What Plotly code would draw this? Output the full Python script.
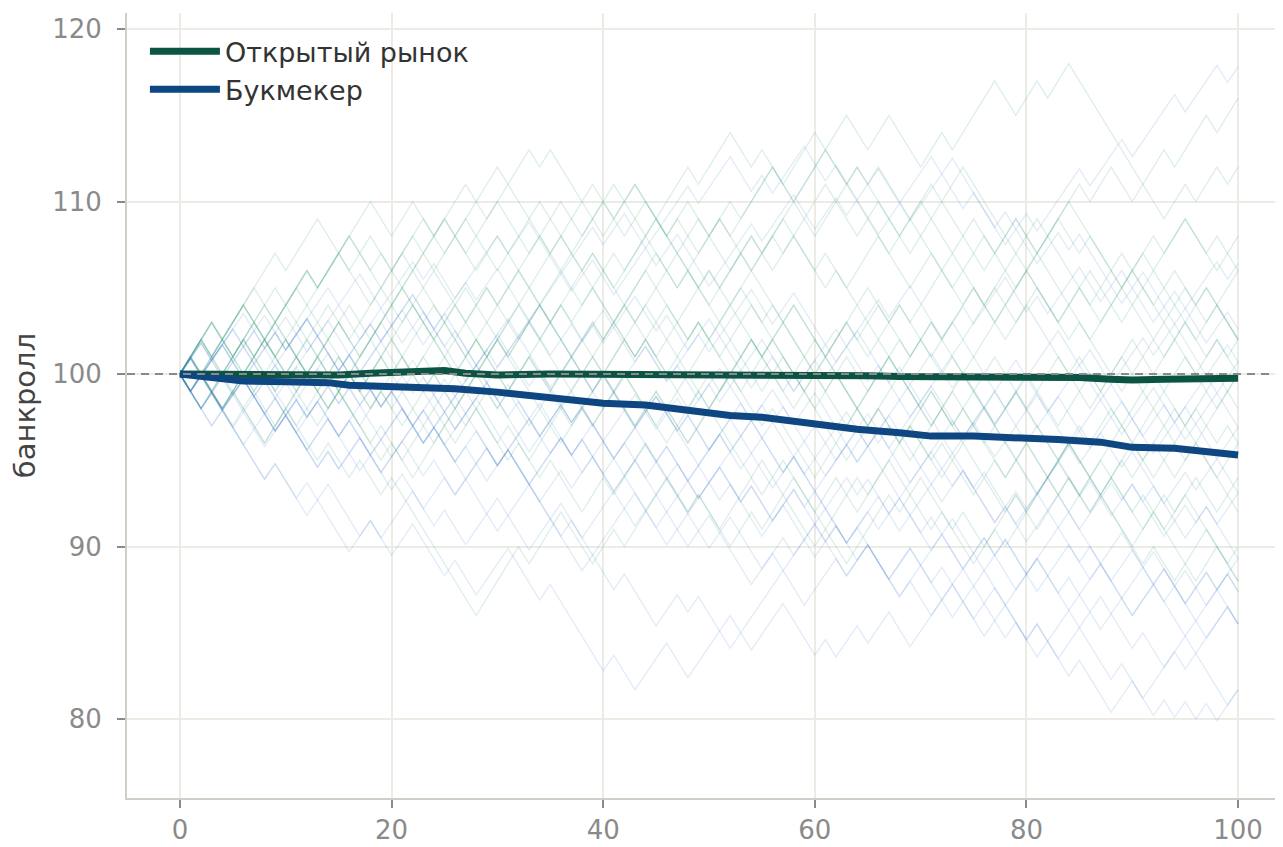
import plotly.graph_objects as go

# ---------------- data ----------------
START = 100.0
BASELINE = 100.0

# mean bankroll curves (thick lines)
OPEN_X = [0, 5, 10, 15, 18, 20, 23, 25, 27, 30, 35, 40, 45, 50, 55, 60, 65, 68, 70, 72, 75, 78, 80, 82, 85, 88, 90, 93, 96, 100]
OPEN_Y = [100, 99.95, 99.95, 99.95, 100.05, 100.1, 100.25, 100.2, 100.05, 99.95, 100.0, 100.0, 99.95, 99.9, 100.0, 99.95,
          99.9, 99.85, 99.85, 99.75, 99.8, 99.75, 99.75, 99.85, 99.8, 99.7, 99.65, 99.7, 99.7, 99.75]
BOOK_X = [0, 3, 6, 10, 14, 16, 20, 24, 26, 30, 34, 38, 40, 44, 46, 50, 52, 55, 58, 60, 64, 68, 71, 75, 79, 83, 87, 90, 94, 97, 100]
BOOK_Y = [100, 99.75, 99.6, 99.55, 99.5, 99.35, 99.3, 99.2, 99.15, 98.95, 98.7, 98.5, 98.3, 98.2, 98.05, 97.75, 97.6,
          97.5, 97.25, 97.05, 96.8, 96.6, 96.4, 96.4, 96.35, 96.2, 96.05, 95.75, 95.7, 95.55, 95.3]

# step sizes of the individual faint walks (win / loss per bet)
UP_OPEN = 1.0
UP_BOOK = 0.9
DOWN = 1.0

# faint sample walks, as signed run lengths (consecutive wins > 0, losses < 0)
OPEN_WALKS = {
    "G1": [3,-1,5,-1,3,-2,3,-2,2,-2,3,-1,2,-1,2,-1,1,-4,2,-3,4,-1,3,-2,1,-3,5,-2,2,-3,2,-1,4,-2,2,-1,2,-9,2,-1,2,-1,1],
    "G2": [2,-1,3,-2,4,-1,3,-3,2,-1,3,-3,1,-1,4,-2,3,-3,2,-4,3,-1,4,-2,3,-4,1,-3,2,-5,2,-1,4,-2,1,-3,3,-1,2,-3,2],
    "G3": [1,-2,3,-1,2,-3,4,-2,3,-2,1,-4,2,-1,5,-2,1,-3,2,-2,4,-1,2,-4,1,-3,2,-2,1,-5,2,-3,1,-4,2,-3,1,-4,1,-2,3,-3],
    "G4": [-1,1,-3,1,-2,2,-3,1,-2,1,-2,1,-8,4,-1,3,-3,2,-1,4,-2,1,-2,3,-1,2,-3,2,-2,3,-4,1,-3,2,-1,4,-2,2,-1,3,-2,4,-1,3],
    "G5": [3,-2,1,-3,2,-1,3,-2,4,-1,2,-3,1,-2,3,-4,2,-1,5,-2,1,-3,2,-2,1,-4,3,-1,2,-3,2,-1,3,-2,4,-3,1,-2,2,-4,2,-1,2,-2],
    "G6": [-2,1,-1,4,-2,1,-3,2,-1,3,-2,1,-4,2,-1,3,-2,4,-1,2,-3,1,-2,3,-4,1,-2,2,-3,4,-1,2,-2,1,-4,2,-1,3,-2,1,-3,2,-1,3,-2,1,-2],
    "G7": [2,-1,3,-1,2,-2,4,-1,2,-3,2,-1,3,-2,1,-2,4,-2,1,-1,3,-3,2,-2,1,-3,2,-1,4,-3,1,-4,2,-1,3,-2,1,-5,2,-1,3,-4,2,-1,1,-3],
    "G8": [1,-3,2,-1,3,-2,1,-4,2,-1,1,-3,4,-2,1,-2,3,-1,2,-4,1,-2,3,-1,2,-3,1,-4,2,-1,3,-2,1,-3,2,-4,1,-2,3,-1,2,-3,1,-2,3,-2,1,-1],
    "G9": [-1,3,-1,2,-3,4,-2,3,-1,2,-3,1,-2,4,-1,3,-2,1,-3,2,-1,4,-3,2,-1,3,-2,4,-1,1,-3,2,-4,1,-2,3,-4,1,-3,2,-1,2,-3,1,-2],
    "G10": [2,-4,1,-2,3,-1,2,-3,1,-2,4,-1,2,-3,1,-4,2,-1,3,-2,1,-3,2,-4,1,-2,1,-3,3,-1,4,-2,1,-3,2,-1,3,-2,1,-3,2,-1,4,-2,1,-1,1,-1],
    "G11": [1,-2,3,-1,2,-2,1,-3,4,-1,2,-2,3,-1,1,-3,2,-1,4,-2,3,-3,1,-2,4,-1,2,-3,1,-2,3,-1,2,-4,2,-1,3,-2,4,-1,2,-2,3,-1,3,-1,2],
    "G12": [-2,3,-1,2,-3,1,-2,4,-2,1,-3,2,-1,3,-2,4,-1,2,-4,1,-2,3,-1,2,-3,1,-3,2,-4,1,-2,3,-1,2,-4,1,-3,2,-3,1,-3,2,-1,1,-4,1],
    "G13": [2,-1,4,-2,3,-1,2,-3,4,-1,2,-2,3,-3,1,-2,4,-1,2,-3,1,-2,3,-1,3,-1,3,-3,1,-4,2,-1,3,-4,1,-2,3,-5,2,-1,3,-2,1,-2],
    "G14": [-1,1,-2,1,-3,2,-1,3,-4,1,-2,3,-1,2,-3,1,-2,4,-1,2,-3,1,-1,3,-2,4,-1,2,-4,1,-2,3,-3,1,-2,4,-2,1,-3,2,-1,3,-2,1,-3,2,-1,2],
    "G15": [3,-1,2,-2,4,-1,3,-2,1,-1,3,-2,3,-1,2,-4,1,-3,2,-1,3,-4,1,-2,3,-1,2,-3,1,-4,2,-1,3,-2,1,-3,2,-4,1,-2,3,-1,2,-3,2,-1,1],
    "G16": [1,-1,2,-3,1,-2,3,-1,1,-3,2,-1,4,-2,1,-3,2,-4,1,-1,3,-2,1,-3,4,-1,2,-2,1,-4,2,-1,3,-3,1,-2,3,-1,1,-4,2,-1,2,-3,1,-2,2,-3,1],
    "G17": [3,-2,3,-1,2,-3,1,-2,3,-1,1,-4,2,-1,3,-2,1,-3,4,-1,2,-3,1,-2,3,-4,2,-1,4,-2,1,-3,2,-1,3,-1,2,-3,1,-2,4,-1,1,-3,2,-1,2],
    "G18": [-2,1,-1,3,-2,1,-3,2,-4,1,-2,3,-1,2,-3,1,-2,1,-3,2,-1,3,-4,1,-3,2,-1,2,-3,1,-2,4,-1,2,-3,1,-2,3,-1,4,-2,3,-1,2,-3,1,-2,2],
    "G19": [1,-3,4,-1,2,-2,1,-3,2,-1,3,-2,4,-1,2,-3,1,-4,2,-1,3,-2,1,-3,2,-1,3,-4,1,-2,3,-1,2,-3,4,-1,2,-3,1,-4,2,-1,3,-2,1,-2],
    "G20": [-1,2,-1,3,-2,1,-4,2,-1,3,-3,1,-2,4,-1,2,-3,1,-2,3,-1,1,-4,2,-1,3,-2,1,-3,2,-4,1,-2,3,-1,1,-4,2,-3,1,-2,1,-3,2,-4,2,-2],
}
BOOK_WALKS = {
    "B1": [-3,1,-4,1,-3,2,-3,1,-2,2,-3,1,-2,3,-3,1,-5,1,-2,3,-2,4,-1,4,-2,3,-1,2,-3,1,-2,4,-1,2,-3,1,-2,3,-1,2,-3,1,-2,3,-1],
    "B2": [-1,2,-3,1,-2,2,-1,1,-4,2,-1,3,-3,1,-2,2,-4,1,-2,3,-1,1,-3,2,-2,1,-3,2,-1,3,-3,2,-2,2,-3,1,-3,2,-2,1,-3,1,-3,2,-2,1,-1,1,-1,1,-1,2],
    "B3": [2,-1,3,-2,2,-1,3,-1,2,-2,3,-1,1,-2,4,-1,2,-3,3,-1,2,-2,4,-1,3,-2,1,-1,3,-2,1,-4,2,-1,3,-2,1,-3,2,-1,4,-1,3,-1,4,-1,3,-1,1],
    "B4": [1,-2,3,-1,2,-1,2,-3,4,-1,2,-2,3,-1,2,-3,3,-1,2,-2,3,-1,2,-3,4,-1,3,-2,2,-1,3,-2,3,-1,1,-4,1,-3,2,-1,1,-4,2,-3,1,-2,2,-1],
    "B5": [-1,1,-2,3,-1,1,-3,2,-1,2,-2,1,-3,2,-1,3,-2,1,-2,2,-1,1,-3,4,-2,1,-2,3,-1,2,-3,1,-2,3,-1,1,-3,2,-1,2,-2,1,-3,3,-1,2,-2,1,-3,2,-1,2,-2],
    "B6": [2,-1,1,-3,2,-1,3,-2,1,-1,2,-3,1,-2,3,-1,2,-2,1,-3,2,-1,4,-2,1,-2,2,-1,3,-3,2,-1,2,-2,1,-2,3,-1,2,-3,2,-1,3,-2,1,-2,3,-1,2,-3,2,-1],
    "B7": [-2,1,-1,2,-3,1,-2,2,-1,1,-3,2,-2,1,-2,3,-1,1,-3,2,-1,2,-2,1,-3,2,-1,3,-2,1,-2,1,-3,2,-1,3,-1,1,-3,2,-2,1,-3,2,-1,2,-2,1,-3,3,-1,1,-2,2,-1],
    "B8": [-3,1,-4,1,-2,1,-4,2,-1,3,-2,1,-2,3,-1,2,-3,1,-2,3,-1,2,-3,2,-1,1,-3,2,-1,3,-2,1,-3,2,-1,2,-3,1,-2,3,-2,1,-3,2,-1,2,-3,1,-1,2,-1],
    "B9": [1,-1,3,-2,2,-1,2,-3,3,-1,2,-2,1,-3,2,-1,3,-2,2,-1,2,-3,1,-2,3,-1,1,-3,2,-2,3,-1,2,-3,1,-2,2,-1,1,-3,3,-2,1,-3,2,-1,3,-2,1,-3,2],
    "B10": [-1,2,-2,1,-3,2,-1,1,-2,3,-1,1,-3,2,-1,2,-3,1,-1,2,-2,1,-3,3,-1,1,-3,2,-2,1,-2,2,-3,1,-2,1,-3,2,-1,1,-3,2,-3,1,-2,2,-3,1,-2,3,-1,1,-3,1],
    "B11": [1,-3,2,-1,1,-2,3,-1,2,-3,1,-2,2,-1,3,-2,1,-3,2,-1,1,-2,3,-2,1,-3,2,-1,2,-3,1,-2,3,-1,1,-3,2,-1,2,-2,1,-3,2,-1,1,-2,3,-1,1,-3,2,-1,1,-3],
    "B12": [-2,1,-1,2,-2,1,-3,2,-1,1,-2,3,-1,1,-3,2,-2,1,-2,3,-1,2,-3,1,-1,2,-2,3,-1,1,-3,2,-1,3,-2,2,-1,3,-2,1,-1,3,-2,2,-1,3,-2,1,-3,2,-1,3,-1,2],
    "B13": [2,-1,2,-1,1,-2,3,-1,2,-2,1,-1,3,-2,1,-3,2,-1,1,-3,2,-2,1,-3,2,-1,1,-3,2,-1,2,-3,1,-2,3,-1,1,-3,2,-2,1,-3,2,-1,3,-2,1,-2,2,-1,1,-3,2,-1,2],
    "B14": [-1,1,-3,1,-2,2,-3,1,-1,2,-3,1,-2,2,-1,1,-3,1,-2,2,-3,1,-2,1,-3,2,-1,1,-3,1,-1,3,-3,1,-1,2,-1,2,-2,3,-1,2,-3,1,-2,3,-1,2,-3,1,-2,2,-1,3,-1],
    "B15": [-1,3,-2,1,-2,2,-1,2,-3,1,-1,3,-2,1,-2,2,-3,2,-1,3,-1,1,-3,2,-2,3,-1,1,-3,2,-1,2,-2,1,-2,3,-1,2,-3,2,-1,2,-2,1,-2,3,-1,1,-3,2,-1,3,-2],
    "B16": [-2,1,-3,2,-1,1,-3,1,-1,2,-2,3,-1,1,-3,2,-1,3,-2,1,-2,2,-1,2,-3,1,-2,3,-1,2,-2,1,-3,2,-1,1,-3,3,-1,2,-3,1,-2,2,-1,1,-3,2,-2,1,-3,2,-1,2],
    "B17": [1,-1,2,-1,3,-2,1,-1,2,-3,3,-1,2,-2,1,-2,3,-1,2,-3,2,-1,3,-2,1,-2,2,-1,3,-2,2,-3,1,-1,3,-1,2,-3,2,-1,3,-2,1,-1,3,-2,2,-3,2,-1,3,-1,1],
    "B18": [-1,1,-1,2,-3,1,-2,3,-1,1,-3,2,-2,1,-1,2,-3,1,-2,3,-1,1,-2,2,-3,1,-1,2,-2,1,-3,3,-1,1,-3,2,-1,2,-2,1,-3,2,-1,1,-2,3,-2,1,-3,2,-1,1,-2,2,-3],
}

N_STEPS = 100

# ---------------- styling ----------------
OPEN_COLOR = "#0b5443"
BOOK_COLOR = "#0e4681"
OPEN_FAINT = "rgba(60,160,125,0.17)"
BOOK_FAINT = "rgba(70,130,210,0.15)"
TICK_GRAY = "#8a8a8a"
GRID = "#ecece4"
SPINE = "#cfcfc8"
FONT = "DejaVu Sans"


def walk(runs, up):
    ys = [START]
    for r in runs:
        for _ in range(abs(r)):
            ys.append(ys[-1] + (up if r > 0 else -DOWN))
    return ys


bad = []
fig = go.Figure()
for group, up, color in ((OPEN_WALKS, UP_OPEN, OPEN_FAINT), (BOOK_WALKS, UP_BOOK, BOOK_FAINT)):
    for name, runs in group.items():
        ys = walk(runs, up)
        if len(ys) != N_STEPS + 1:
            bad.append(f"{name}:{len(ys) - 1}")
        fig.add_trace(go.Scatter(x=list(range(len(ys))), y=ys, mode="lines",
                                 line=dict(color=color, width=1.4), showlegend=False,
                                 hoverinfo="skip"))
if bad:
    raise ValueError("bad walk lengths: " + ", ".join(bad))

fig.add_trace(go.Scatter(x=OPEN_X, y=OPEN_Y, mode="lines", name="Открытый рынок",
                         line=dict(color=OPEN_COLOR, width=7)))
fig.add_trace(go.Scatter(x=BOOK_X, y=BOOK_Y, mode="lines", name="Букмекер",
                         line=dict(color=BOOK_COLOR, width=7)))

fig.add_shape(type="line", xref="paper", x0=0, x1=1, yref="y", y0=BASELINE, y1=BASELINE,
              line=dict(color=TICK_GRAY, width=2, dash="8px,6px"), layer="above")

fig.update_layout(
    width=1283, height=847,
    margin=dict(l=119, r=0, t=5, b=57),
    plot_bgcolor="white", paper_bgcolor="white",
    font=dict(family=FONT, size=26, color=TICK_GRAY),
    legend=dict(x=0.0154, y=0.982, xanchor="left", yanchor="top",
                font=dict(family=FONT, size=27, color="#333333"),
                bgcolor="rgba(0,0,0,0)", itemwidth=70),
    xaxis=dict(range=[-5.0, 105.0], tickmode="array", tickvals=[0, 20, 40, 60, 80, 100],
               showgrid=True, gridcolor=GRID, gridwidth=1.5, zeroline=False,
               showline=True, linecolor=SPINE, linewidth=2, automargin=False,
               ticks="outside", ticklen=8, tickwidth=2, tickcolor=TICK_GRAY,
               tickfont=dict(family=FONT, size=26, color=TICK_GRAY)),
    yaxis=dict(range=[75.42, 120.93], tickmode="array", tickvals=[80, 90, 100, 110, 120],
               showgrid=True, gridcolor=GRID, gridwidth=1.5, zeroline=False,
               showline=True, linecolor=SPINE, linewidth=2, automargin=False,
               ticks="outside", ticklen=8, tickwidth=2, tickcolor=TICK_GRAY,
               ticklabelstandoff=10,
               tickfont=dict(family=FONT, size=26, color=TICK_GRAY),
               title=dict(text="банкролл", font=dict(family=FONT, size=29, color="#444444"),
                          standoff=11)),
)

fig.write_html("out.html")
